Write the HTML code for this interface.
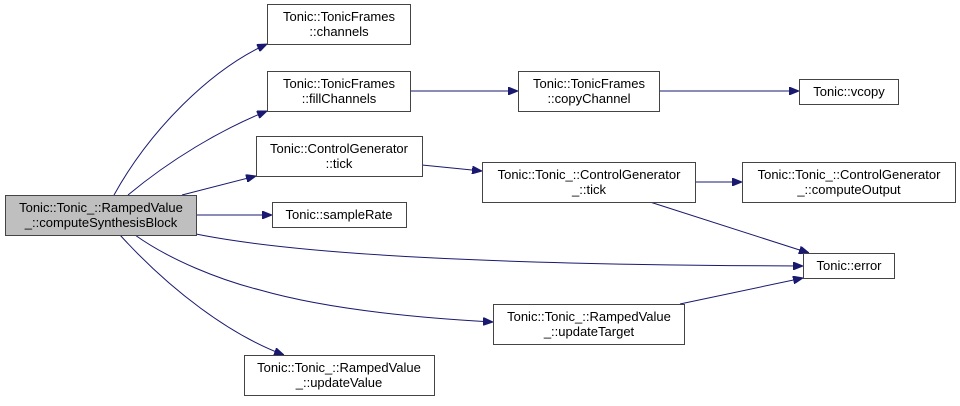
<!DOCTYPE html>
<html><head><meta charset="utf-8"><style>
html,body{margin:0;padding:0;background:#fff;}
svg text{font-family:"Liberation Sans",sans-serif;font-size:13px;fill:#000;}
</style></head><body>
<svg width="960" height="401" viewBox="0 0 960 401" xmlns="http://www.w3.org/2000/svg">
<defs><marker id="a" markerWidth="10" markerHeight="8" refX="10" refY="4" orient="auto" markerUnits="userSpaceOnUse"><path d="M0,0 L10,4 L0,8 z" fill="#191970" stroke="#191970"/></marker></defs>
<g fill="none" stroke="#191970" stroke-width="1" marker-end="url(#a)">
<path d="M114,195 C150,130 210,70 267,44"/>
<path d="M128,195 C170,160 220,130 267,111"/>
<path d="M182,195 L256,176"/>
<path d="M196,215 L272,215"/>
<path d="M196,234 C300,255 500,265 803,266"/>
<path d="M135,235 C170,260 220,280 260,290 C330,310 420,318 493,322"/>
<path d="M120,235 C170,290 230,335 284,355"/>
<path d="M410,91 L518,91"/>
<path d="M659,91 L799,91"/>
<path d="M422,165 L482,171"/>
<path d="M695,182 L742,182"/>
<path d="M650,202 L809,253"/>
<path d="M680,304 L803,278"/>
</g>
<g stroke="#444" stroke-width="1" fill="#fff">
<rect x="5.5" y="195.5" width="191" height="40" fill="#bfbfbf"/>
<rect x="267.5" y="4.5" width="143" height="40"/>
<rect x="267.5" y="71.5" width="143" height="40"/>
<rect x="256.5" y="136.5" width="166" height="40"/>
<rect x="272.5" y="202.5" width="134" height="25"/>
<rect x="244.5" y="355.5" width="190" height="40"/>
<rect x="518.5" y="71.5" width="141" height="40"/>
<rect x="799.5" y="79.5" width="99" height="25"/>
<rect x="482.5" y="162.5" width="213" height="40"/>
<rect x="742.5" y="162.5" width="213" height="40"/>
<rect x="803.5" y="253.5" width="91" height="25"/>
<rect x="493.5" y="304.5" width="191" height="40"/>
</g>
<g text-anchor="middle">
<text x="101" y="212">Tonic::Tonic_::RampedValue</text><text x="101" y="227">_::computeSynthesisBlock</text>
<text x="339" y="21">Tonic::TonicFrames</text><text x="339" y="36">::channels</text>
<text x="339" y="88">Tonic::TonicFrames</text><text x="339" y="103">::fillChannels</text>
<text x="339" y="153">Tonic::ControlGenerator</text><text x="339" y="168">::tick</text>
<text x="339" y="219">Tonic::sampleRate</text>
<text x="339" y="372">Tonic::Tonic_::RampedValue</text><text x="339" y="387">_::updateValue</text>
<text x="589" y="88">Tonic::TonicFrames</text><text x="589" y="103">::copyChannel</text>
<text x="849" y="96">Tonic::vcopy</text>
<text x="589" y="179">Tonic::Tonic_::ControlGenerator</text><text x="589" y="194">_::tick</text>
<text x="849" y="179">Tonic::Tonic_::ControlGenerator</text><text x="849" y="194">_::computeOutput</text>
<text x="849" y="270">Tonic::error</text>
<text x="589" y="321">Tonic::Tonic_::RampedValue</text><text x="589" y="336">_::updateTarget</text>
</g>
</svg>
</body></html>
